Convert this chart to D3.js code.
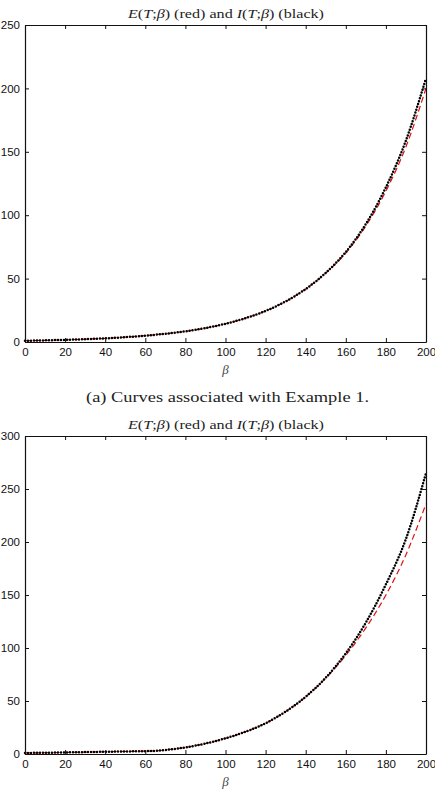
<!DOCTYPE html>
<html>
<head>
<meta charset="utf-8">
<script src="https://cdn.jsdelivr.net/npm/d3@7"></script>
<style>
  html, body { margin: 0; padding: 0; background: #fff; }
  svg { display: block; }
</style>
</head>
<body>
<svg id="chart" width="435" height="799"></svg>
<script>
// ---------- data ----------
const betas1 = [0,10,20,30,40,50,60,70,80,90,100,110,120,130,140,150,160,170,180,190,200];
const I1 = [1.0,1.3,1.7,2.2,2.9,3.8,5.0,6.5,8.4,11.0,14.4,18.8,24.5,32.0,41.8,54.5,71.0,93.0,122,159,208];
const E1 = [1.0,1.3,1.7,2.2,2.9,3.8,5.0,6.5,8.4,11.0,14.4,18.8,24.5,32.0,41.8,54.3,70.2,91.5,119,154,200];

const betas2 = [0,10,20,30,40,50,60,65,70,80,90,100,110,120,130,140,150,160,170,180,190,200];
const I2 = [1.0,1.2,1.5,1.8,2.1,2.4,2.7,2.9,3.8,6.2,9.9,14.8,21,29,40,54,72,95,124,160,203,265];
const E2 = [1.0,1.2,1.5,1.8,2.1,2.4,2.7,2.9,3.8,6.2,9.9,14.8,21,29,40,54,71.5,93,119,150,188,236];

const xTicks = [0,20,40,60,80,100,120,140,160,180,200];
const yTicks1 = [0,50,100,150,200,250];
const yTicks2 = [0,50,100,150,200,250,300];
const caption = "(a) Curves associated with Example 1.";

// ---------- drawing ----------
const svg = d3.select("#chart");
const L = 25, R = 426;

function panel(top, bottom, yMax, yTicks, betas, Ivals, Evals) {
  const x = d3.scaleLinear().domain([0, 200]).range([L, R]);
  const y = d3.scaleLinear().domain([0, yMax]).range([bottom, top]);
  const g = svg.append("g");

  // title
  const t = g.append("text")
    .attr("x", 226).attr("y", top - 7)
    .attr("text-anchor", "middle")
    .attr("font-family", "'Liberation Serif', 'DejaVu Serif', serif")
    .attr("font-size", 13)
    .attr("fill", "#222")
    .attr("textLength", 196).attr("lengthAdjust", "spacingAndGlyphs");
  t.append("tspan").attr("font-style", "italic").text("E");
  t.append("tspan").text("(");
  t.append("tspan").attr("font-style", "italic").text("T");
  t.append("tspan").text(";");
  t.append("tspan").attr("font-style", "italic").text("β");
  t.append("tspan").text(") (red) and ");
  t.append("tspan").attr("font-style", "italic").text("I");
  t.append("tspan").text("(");
  t.append("tspan").attr("font-style", "italic").text("T");
  t.append("tspan").text(";");
  t.append("tspan").attr("font-style", "italic").text("β");
  t.append("tspan").text(") (black)");

  // curves
  const line = d3.line().x((d, i) => x(betas[i])).y(d => y(d)).curve(d3.curveMonotoneX);
  g.append("path").datum(Evals)
    .attr("d", line)
    .attr("fill", "none")
    .attr("stroke", "#e01010")
    .attr("stroke-width", 1.2)
    .attr("stroke-dasharray", "6,3.5");
  g.append("path").datum(Ivals)
    .attr("d", line)
    .attr("fill", "none")
    .attr("stroke", "#000")
    .attr("stroke-width", 2.5)
    .attr("stroke-linecap", "round")
    .attr("stroke-dasharray", "0,3");

  // axes
  const fontFam = "'Liberation Sans', Arial, Helvetica, sans-serif";
  const xb = g.append("g").attr("transform", `translate(0,${bottom})`)
    .call(d3.axisBottom(x).tickValues(xTicks).tickSize(-4).tickSizeOuter(0).tickPadding(6));
  const xt = g.append("g").attr("transform", `translate(0,${top})`)
    .call(d3.axisTop(x).tickValues(xTicks).tickSize(-4).tickSizeOuter(0).tickFormat(""));
  const yl = g.append("g").attr("transform", `translate(${L},0)`)
    .call(d3.axisLeft(y).tickValues(yTicks).tickSize(-4).tickSizeOuter(0).tickPadding(5));
  const yr = g.append("g").attr("transform", `translate(${R},0)`)
    .call(d3.axisRight(y).tickValues(yTicks).tickSize(-4).tickSizeOuter(0).tickFormat(""));
  [xb, xt, yl, yr].forEach(a => {
    a.selectAll(".domain").attr("stroke", "#111").attr("stroke-width", 1.2);
    a.selectAll(".tick line").attr("stroke", "#111").attr("stroke-width", 1);
    a.selectAll("text").attr("font-family", fontFam).attr("font-size", 11.5).attr("fill", "#111");
  });

  // x label
  g.append("text")
    .attr("x", 225.5).attr("y", bottom + 32)
    .attr("text-anchor", "middle")
    .attr("font-family", "'Liberation Serif', 'DejaVu Serif', serif")
    .attr("font-style", "italic")
    .attr("font-size", 13)
    .attr("fill", "#444")
    .text("β");
}

panel(25, 342, 250, yTicks1, betas1, I1, E1);

svg.append("text")
  .attr("x", 227.5).attr("y", 402)
  .attr("text-anchor", "middle")
  .attr("font-family", "'Liberation Serif', 'DejaVu Serif', serif")
  .attr("font-size", 15.5)
  .attr("fill", "#222")
  .attr("textLength", 283).attr("lengthAdjust", "spacingAndGlyphs")
  .text(caption);

panel(436, 754, 300, yTicks2, betas2, I2, E2);
</script>
</body>
</html>
